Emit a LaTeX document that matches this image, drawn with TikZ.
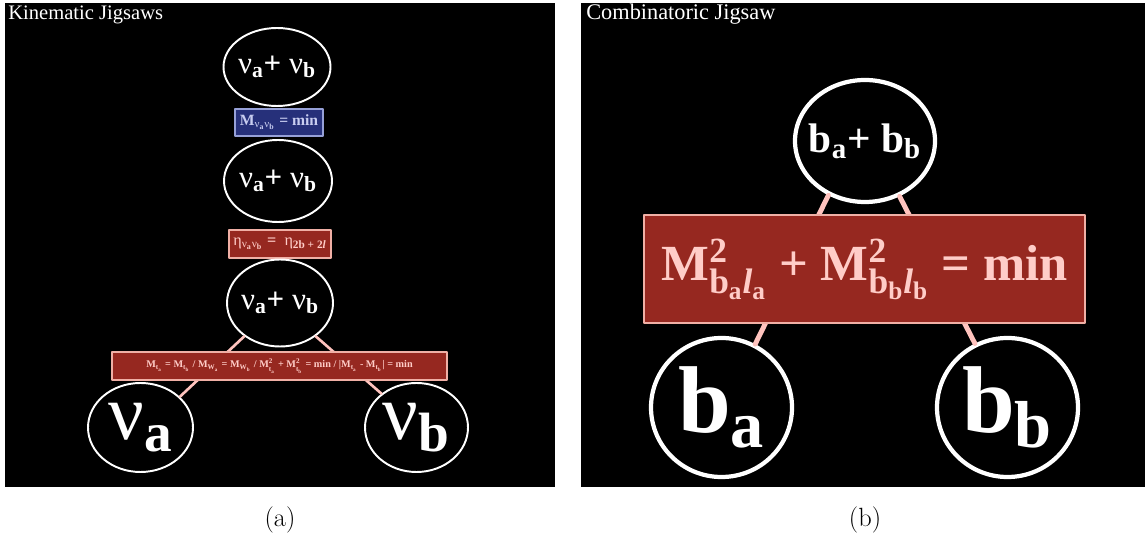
\documentclass[tikz,border=0pt]{standalone}
\usepackage{fix-cm}
\usepackage{amsmath}
\usepackage{fontspec}
\newfontfamily\tnr{Liberation Serif}
\usetikzlibrary{shapes.geometric}

\definecolor{jigred}{RGB}{150,40,32}
\definecolor{jigredline}{RGB}{240,175,165}
\definecolor{jigredtext}{RGB}{255,205,200}
\definecolor{jigblue}{RGB}{38,48,122}
\definecolor{jigblueline}{RGB}{150,160,215}
\definecolor{jigbluetext}{RGB}{200,205,240}
\definecolor{jiglink}{RGB}{255,195,190}

\newcommand{\tx}[1]{\text{#1}}
\newcommand{\nuv}{\textmd{ν}}
\newcommand{\etav}{\textmd{η}}
\newcommand{\jf}[1]{\tnr\bfseries\fontsize{#1}{#1}\selectfont}
\newcommand{\Mij}[2]{M$_{\tx{#1}_{\tx{#2}}}$}
\newcommand{\Msq}[2]{M$^{\tx{2}}_{\tx{#1}_{\tx{#2}}}$}

\begin{document}
\begin{tikzpicture}[line cap=round, line join=round,
  jigell/.style={ellipse, draw=white, text=white, inner sep=-6pt},
  jigbox/.style={rectangle, fill=jigred, draw=jigredline, line width=0.6pt,
                 text=jigredtext, inner sep=0pt},
  bluebox/.style={rectangle, fill=jigblue, draw=jigblueline, line width=0.6pt,
                  text=jigbluetext, inner sep=0pt},
  panellabel/.style={anchor=base west, text=white, inner sep=0pt},
  link/.style={draw=jiglink}]

  \useasboundingbox (0,0) rectangle (22.9,10.8);
  \fill[white] (0,0) rectangle (22.9,10.8);

  %% ---- panel (a): kinematic jigsaws ----
  \fill[black] (0.10,1.06) rectangle (11.10,10.74);
  \node[panellabel, font=\tnr\fontsize{11.7pt}{14pt}\selectfont] (kinlabel)
    at (0.16,10.40) {Kinematic Jigsaws};

  \node[jigell, line width=1.1pt, minimum width=2.14cm, minimum height=1.56cm,
        font=\jf{17.6pt}] (nuab1) at (5.54,9.46)
    {\nuv$_{\tx{a}}$+\ \nuv$_{\tx{b}}$};
  \node[bluebox, minimum width=1.76cm, minimum height=0.54cm, font=\jf{8.9pt}]
    (mmin) at (5.58,8.35)
    {M$_{\tx{\nuv}_{\tx{a}}\tx{\nuv}_{\tx{b}}}$ = min};
  \node[jigell, line width=1.1pt, minimum width=2.16cm, minimum height=1.64cm,
        font=\jf{17.6pt}] (nuab2) at (5.56,7.18)
    {\nuv$_{\tx{a}}$+\ \nuv$_{\tx{b}}$};
  \node[jigbox, minimum width=2.04cm, minimum height=0.56cm, font=\jf{9.2pt}]
    (etabox) at (5.60,5.92)
    {\etav$_{\tx{\nuv}_{\tx{a}}\tx{\nuv}_{\tx{b}}}$ = \ \etav$_{\tx{2b + 2{\itshape l}}}$};
  \node[jigell, line width=1.1pt, minimum width=2.12cm, minimum height=1.74cm,
        font=\jf{17.6pt}] (nuab3) at (5.60,4.74)
    {\nuv$_{\tx{a}}$+\ \nuv$_{\tx{b}}$};

  %% ---- leaves ----
  \node[jigell, line width=1.1pt, minimum width=2.10cm, minimum height=1.78cm,
        font=\jf{45pt}] (nua) at (2.81,2.25) {\nuv$_{\tx{a}}$};
  \node[jigell, line width=1.1pt, minimum width=2.06cm, minimum height=1.78cm,
        font=\jf{45pt}] (nub) at (8.33,2.25) {\nuv$_{\tx{b}}$};
  \draw[link, line width=1.5pt] (nuab3.223) -- (nua.38);
  \draw[link, line width=1.5pt] (nuab3.317) -- (nub.136);

  \node[jigbox, minimum width=6.70cm, minimum height=0.56cm, font=\jf{5.8pt}]
    (mtbox) at (5.59,3.48)
    {\Mij{t}{a} = \Mij{t}{b} / \Mij{W}{a} = \Mij{W}{b} / \Msq{t}{a} + \Msq{t}{b}
     = min / |\Mij{t}{a} - \Mij{t}{b}| = min};

  \node[font=\fontsize{15pt}{18pt}\selectfont] (capa) at (5.60,0.40) {(a)};

  %% ---- panel (b): combinatoric jigsaw ----
  \fill[black] (11.62,1.06) rectangle (22.90,10.74);
  \node[panellabel, font=\tnr\fontsize{12.7pt}{15pt}\selectfont] (comblabel)
    at (11.72,10.40) {Combinatoric Jigsaw};

  \node[jigell, line width=2.4pt, minimum width=2.80cm, minimum height=2.44cm,
        font=\jf{23.5pt}] (bab) at (17.30,7.98)
    {b$_{\tx{a}}$+ b$_{\tx{b}}$};
  \node[jigell, line width=2.4pt, minimum width=2.82cm, minimum height=2.78cm,
        font=\jf{54pt}] (ba) at (14.43,2.65) {b$_{\tx{a}}$};
  \node[jigell, line width=2.4pt, minimum width=2.82cm, minimum height=2.78cm,
        font=\jf{54pt}] (bb) at (20.15,2.65) {b$_{\tx{b}}$};
  \draw[link, line width=2.8pt] (bab.236) -- (ba.62);
  \draw[link, line width=2.8pt] (bab.302) -- (bb.117);

  \node[jigbox, minimum width=8.82cm, minimum height=2.16cm, font=\jf{28.8pt}]
    (mminb) at (17.29,5.42)
    {M$^{\tx{2}}_{\tx{b}_{\tx{a}}\tx{\itshape l}_{\tx{a}}}$ +
     M$^{\tx{2}}_{\tx{b}_{\tx{b}}\tx{\itshape l}_{\tx{b}}}$ = min};

  \node[font=\fontsize{15pt}{18pt}\selectfont] (capb) at (17.30,0.40) {(b)};

\end{tikzpicture}
\end{document}
